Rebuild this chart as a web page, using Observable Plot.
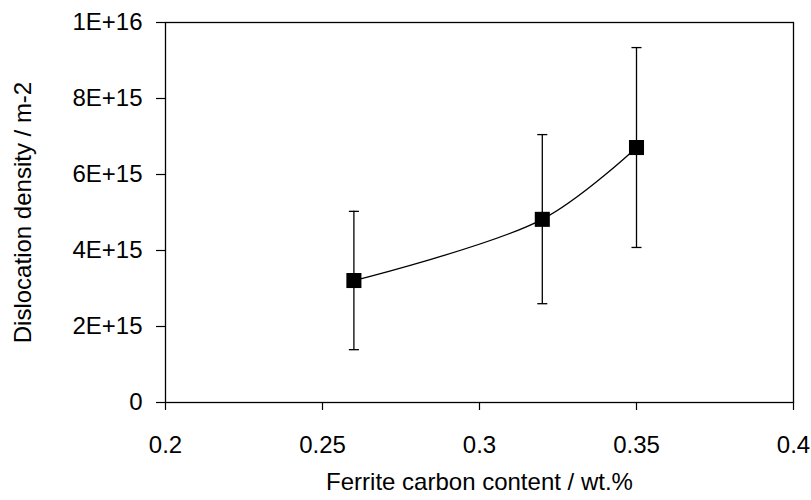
<!DOCTYPE html>
<html><head><meta charset="utf-8">
<script src="https://cdn.jsdelivr.net/npm/d3@7"></script>
<script src="https://cdn.jsdelivr.net/npm/@observablehq/plot@0.6"></script>
<style>body{margin:0;background:#fff;} svg{font-family:"Liberation Sans",Arial,sans-serif;} svg text{font-size:24px;}</style>
</head><body><div id="chart"></div>
<script>
const carbon = [0.26, 0.32, 0.35];
const density = [3.21e15, 4.82e15, 6.71e15];
const errLow = [1.39e15, 2.6e15, 4.08e15];
const errHigh = [5.03e15, 7.05e15, 9.34e15];
const xTicks = [0.2, 0.25, 0.3, 0.35, 0.4];
const xTickLabels = ["0.2", "0.25", "0.3", "0.35", "0.4"];
const yTicks = [0, 2e15, 4e15, 6e15, 8e15, 1e16];
const yTickLabels = ["0", "2E+15", "4E+15", "6E+15", "8E+15", "1E+16"];
const capHalf = 0.0016;

const data = carbon.map((c, i) => ({x: c, y: density[i], lo: errLow[i], hi: errHigh[i]}));
const caps = data.flatMap(d => [{x1: d.x - capHalf, x2: d.x + capHalf, y: d.lo}, {x1: d.x - capHalf, x2: d.x + capHalf, y: d.hi}]);

const chart = Plot.plot({
  width: 811, height: 500,
  marginLeft: 165, marginRight: 18, marginTop: 22, marginBottom: 98,
  style: {fontFamily: "Liberation Sans, Arial, sans-serif", color: "#000", background: "#fff"},
  x: {domain: [0.2, 0.4]},
  y: {domain: [0, 1e16]},
  marks: [
    Plot.frame({stroke: "#000", strokeWidth: 1.3}),
    Plot.axisX({ticks: xTicks, tickFormat: (d) => xTickLabels[xTicks.indexOf(d)], tickSize: 8, tickPadding: 25, fontSize: 24,
      label: "Ferrite carbon content / wt.%", labelAnchor: "center", labelArrow: "none", labelOffset: 87, strokeWidth: 1.2}),
    Plot.axisY({ticks: yTicks, tickFormat: (d) => yTickLabels[yTicks.indexOf(d)], tickSize: 9, tickPadding: 14, fontSize: 24,
      label: "Dislocation density / m-2", labelAnchor: "center", labelArrow: "none", labelOffset: 152, strokeWidth: 1.2}),
    Plot.ruleX(data, {x: "x", y1: "lo", y2: "hi", stroke: "#000", strokeWidth: 1.3}),
    Plot.link(caps, {x1: "x1", x2: "x2", y1: "y", y2: "y", stroke: "#000", strokeWidth: 1.3}),
    Plot.line(data, {x: "x", y: "y", curve: "catmull-rom", stroke: "#000", strokeWidth: 1.3}),
    Plot.dot(data, {x: "x", y: "y", symbol: "square", r: 8.5, fill: "#000", stroke: "none"})
  ]
});
document.getElementById("chart").appendChild(chart);
</script></body></html>
